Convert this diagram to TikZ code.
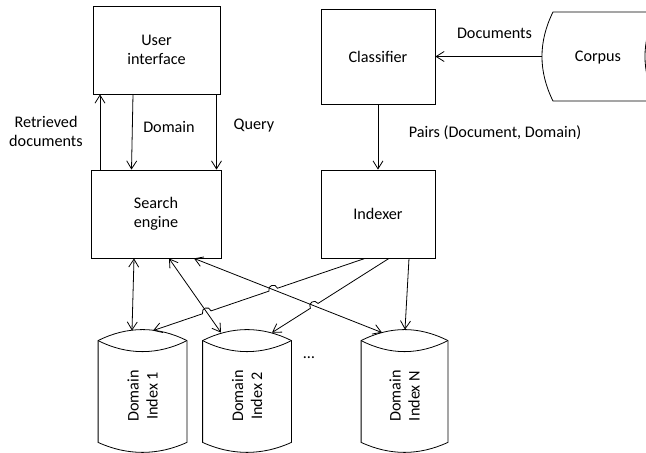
\documentclass[tikz,border=0pt]{standalone}
\usepackage{fontspec}
\setmainfont{Carlito}
\usetikzlibrary{arrows.meta,calc}

\begin{document}
\begin{tikzpicture}[x=1pt,y=-1pt,
  font=\fontsize{16.2}{19}\selectfont,
  line width=0.8pt,
  proc/.style={draw, inner sep=0pt, align=center},
  store/.style={inner sep=0pt, minimum width=#1, minimum height=122pt},
  lbl/.style={inner sep=1pt, align=center},
  flow/.style={-{Straight Barb[length=8pt,width=10pt]}},
  dflow/.style={{Straight Barb[length=8pt,width=10pt]}-{Straight Barb[length=8pt,width=10pt]}},
  hop/.style={bend right=90, looseness=1.7}
]
\useasboundingbox (0,0) rectangle (646,453);
\clip (0,0) rectangle (646,453);

% processing blocks
\node[proc, minimum width=127pt, minimum height=88pt] (ui) at (156.5,50) {User\\interface};
\node[proc, minimum width=130pt, minimum height=88pt] (search) at (156,214) {Search\\engine};
\node[proc, minimum width=114pt, minimum height=95pt] (classifier) at (378,56.5) {Classifier};
\node[proc, minimum width=114pt, minimum height=88pt] (indexer) at (378,214) {Indexer};

% corpus (horizontal drum, running past the right edge)
\node (corpus) at (598,58) {Corpus};
\draw (660,12) -- (553,12) .. controls (538.3,41.7) and (538.3,71.3) .. (553,101) -- (660,101);
\draw (656,12) .. controls (641.3,41.7) and (641.3,71.3) .. (656,101);
\coordinate (corpusW) at (542,56.5);

% index stores
\node[store=88pt] (idx1) at (142.5,391) {};
\node[store=88pt] (idx2) at (247,391) {};
\node[store=86pt] (idxN) at (404.5,391) {};
\foreach \n in {idx1,idx2,idxN}{
  \coordinate (tl) at ($(\n.north west)+(0,11)$);
  \coordinate (tr) at ($(\n.north east)+(0,11)$);
  \coordinate (br) at ($(\n.south east)+(0,-10)$);
  \coordinate (bl) at ($(\n.south west)+(0,-10)$);
  \draw (tl) .. controls +(29,-14.7) and +(-29,-14.7) .. (tr)
        -- (br) .. controls +(-29,13.3) and +(29,13.3) .. (bl) -- cycle;
  \draw (tl) .. controls +(29,14.7) and +(-29,14.7) .. (tr);
}
\node[rotate=90, align=center] (idx1txt) at ($(idx1)+(0,5)$) {Domain\\Index 1};
\node[rotate=90, align=center] (idx2txt) at ($(idx2)+(0,5)$) {Domain\\Index 2};
\node[rotate=90, align=center] (idxNtxt) at ($(idxN)+(0,5)$) {Domain\\Index N};
\node (dots) at (309,358) {…};

% user interface <-> search engine
\draw[flow] ([xshift=-56pt]search.north) -- ([xshift=-56.5pt]ui.south);
\draw[flow] ([xshift=-23.5pt]ui.south) -- ([xshift=-24.5pt]search.north);
\draw[flow] ([xshift=60pt]ui.south) -- ([xshift=60.5pt]search.north);
\node[lbl] (lblret) at (46,131) {Retrieved\\documents};
\node[lbl] (lbldom) at (169,127) {Domain};
\node[lbl] (lblq) at (254,126) {Query};

% corpus -> classifier -> indexer
\draw[flow] (corpusW) -- (classifier.east);
\node[lbl] (lbldocs) at (494.5,33) {Documents};
\draw[flow] (classifier) -- (indexer);
\node[lbl] (lblpairs) at (495,133) {Pairs (Document, Domain)};

% end points of the lower connectors
\coordinate (aS) at ([xshift=-22pt]search.south);
\coordinate (aE) at ([xshift=-10.5pt,yshift=-1pt]idx1.north);
\coordinate (bS) at ([xshift=13pt]search.south);
\coordinate (bE) at ([xshift=-26pt,yshift=-3pt]idx2.north);
\coordinate (cS) at ([xshift=38pt]search.south);
\coordinate (cE) at ([xshift=-22.5pt,yshift=-3pt]idxN.north);
\coordinate (dS) at ([xshift=-13pt]indexer.south);
\coordinate (dE) at ([xshift=10.5pt,yshift=-1pt]idx1.north);
\coordinate (eS) at ([xshift=11pt]indexer.south);
\coordinate (eE) at ([xshift=25pt,yshift=-3pt]idx2.north);
\coordinate (fS) at ([xshift=31pt]indexer.south);
\coordinate (fE) at ([xshift=0.5pt]idxN.north);

% search engine <-> indexes
\draw[dflow] (aS) -- (aE);
\draw[dflow] (bS) -- (bE);
\draw[dflow] (cS) -- (cE);

% crossings where the indexer lines hop over
\coordinate (x1) at (intersection of dS--dE and cS--cE);
\coordinate (x2) at (intersection of dS--dE and bS--bE);
\coordinate (x3) at (intersection of eS--eE and cS--cE);

% indexer -> indexes
\draw[flow] (dS) -- ($(x1)!4.5pt!(dS)$) to[hop] ($(x1)!4.5pt!(dE)$)
  -- ($(x2)!4.5pt!(dS)$) to[hop] ($(x2)!4.5pt!(dE)$) -- (dE);
\draw[flow] (eS) -- ($(x3)!4.5pt!(eS)$) to[hop] ($(x3)!4.5pt!(eE)$) -- (eE);
\draw[flow] (fS) -- (fE);
\end{tikzpicture}
\end{document}
